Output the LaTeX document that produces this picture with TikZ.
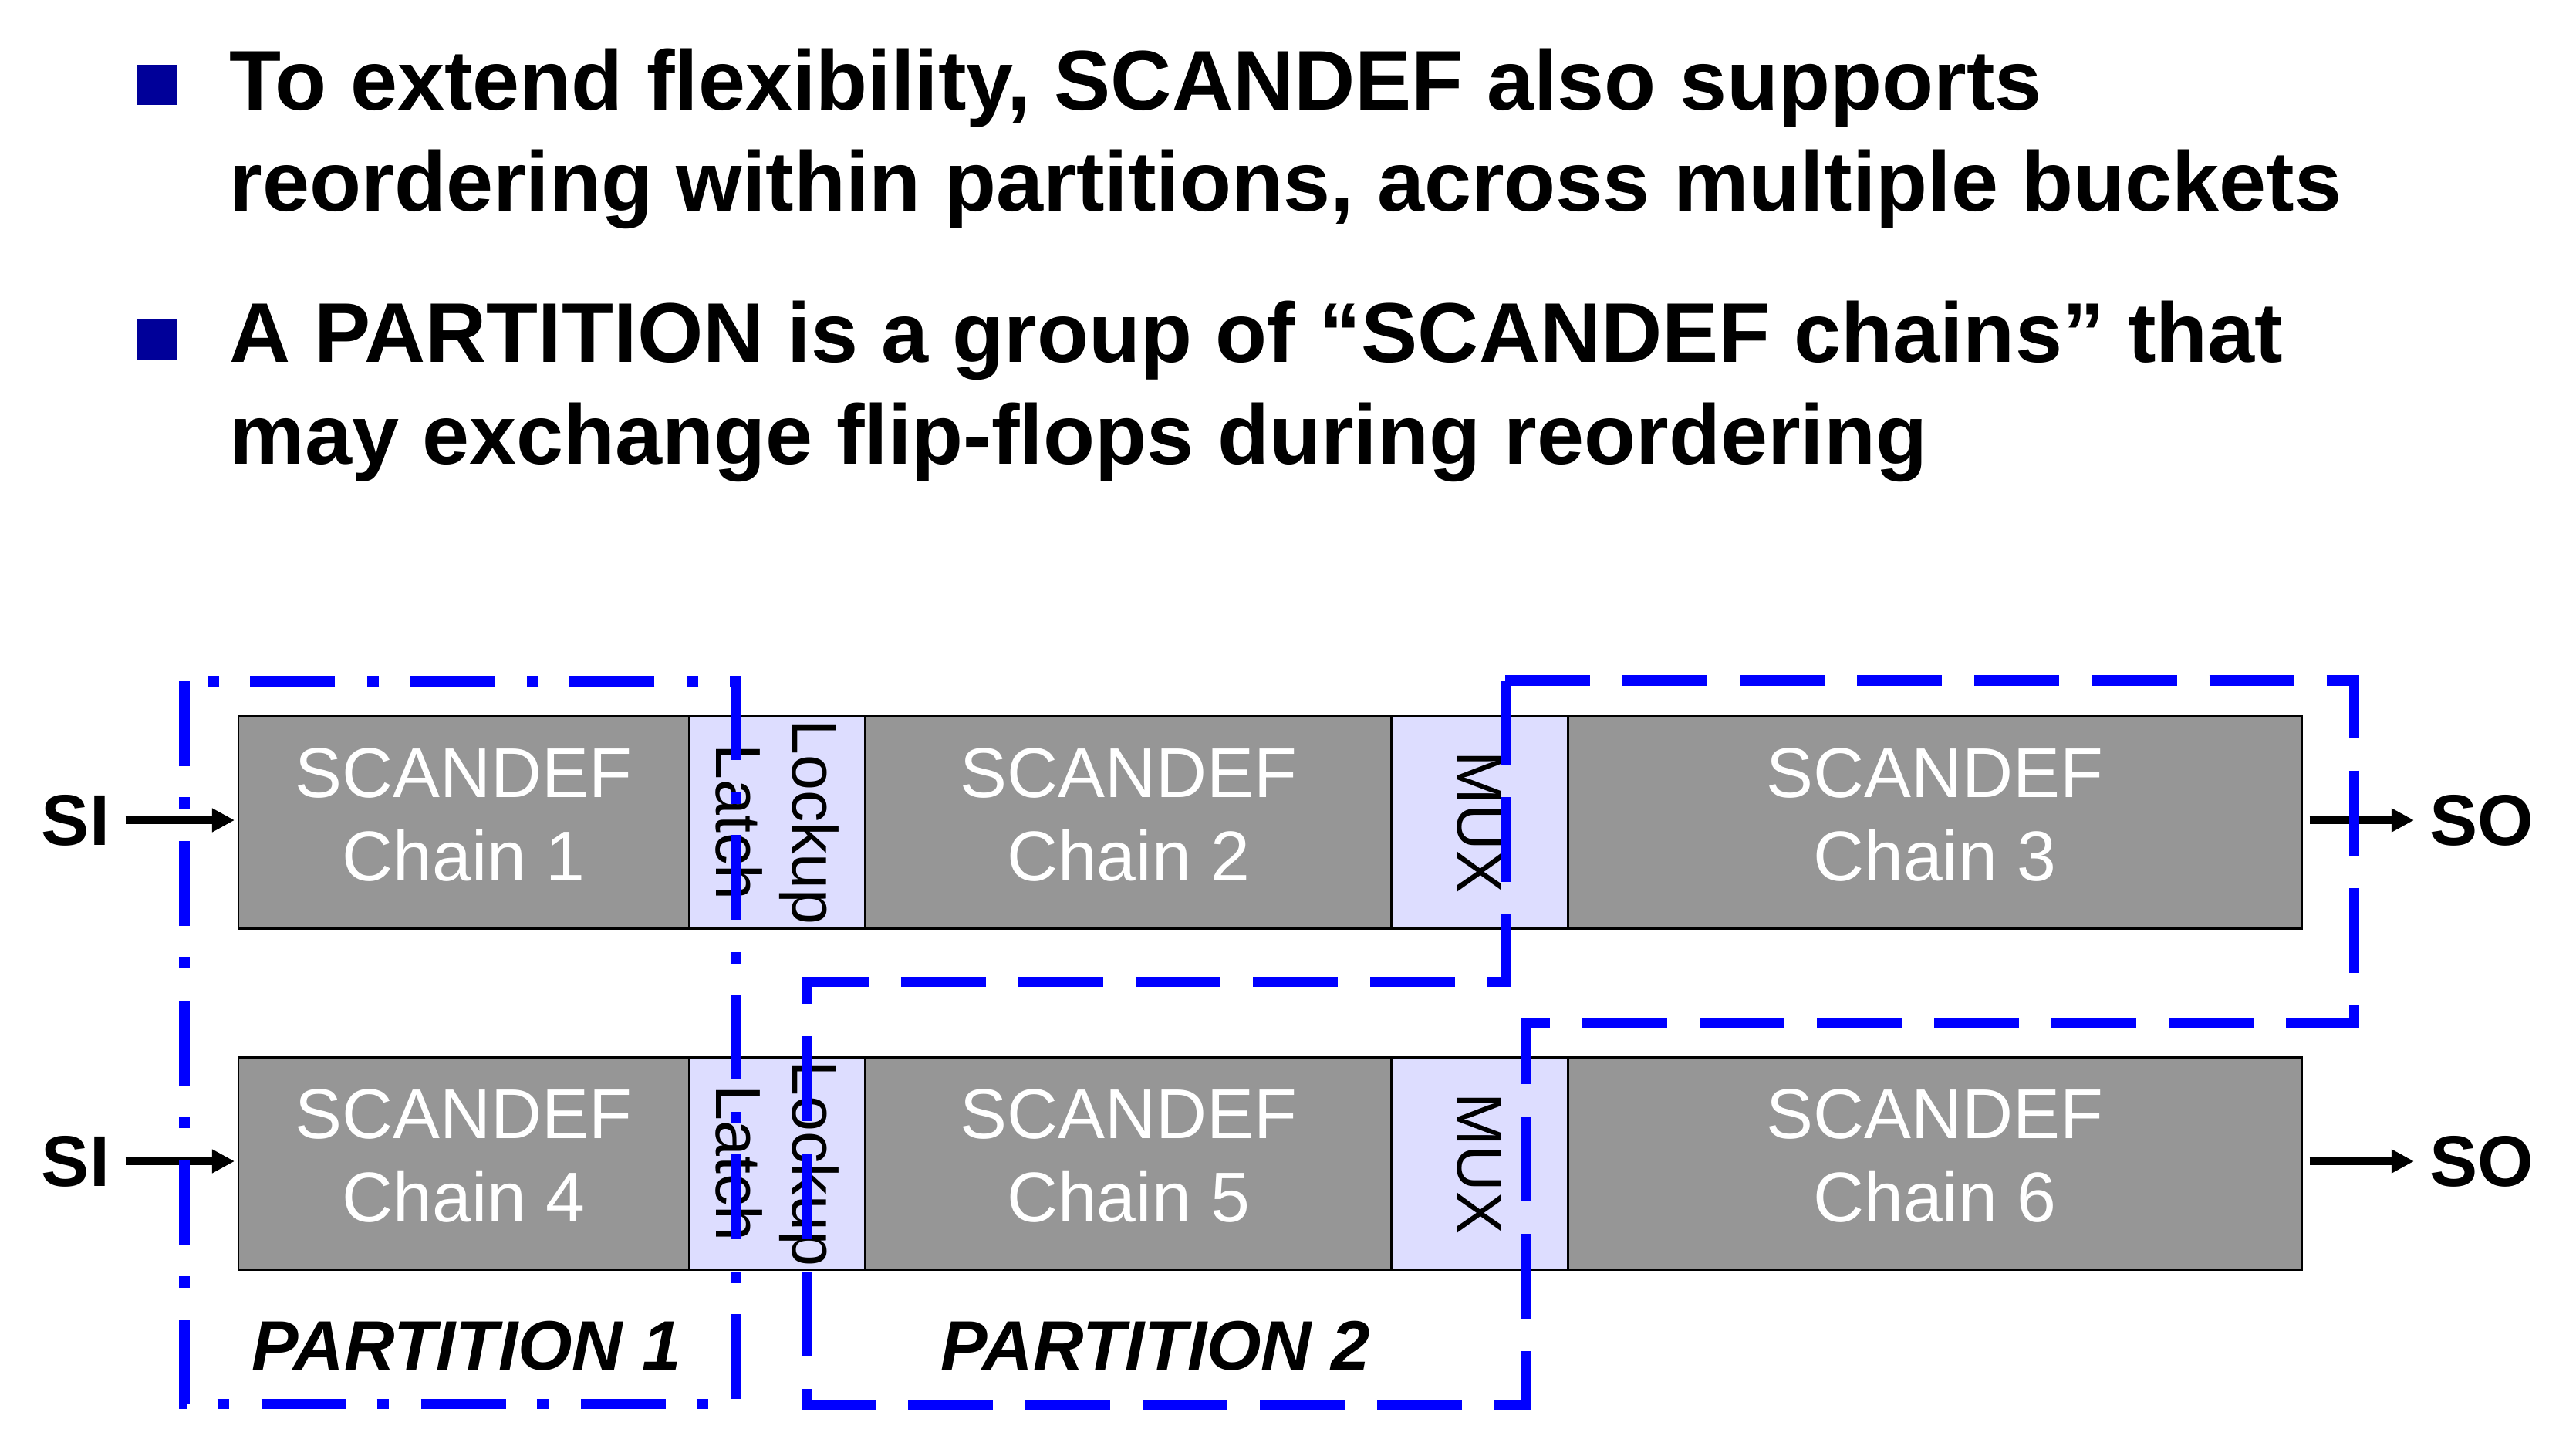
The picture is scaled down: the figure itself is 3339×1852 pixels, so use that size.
\documentclass[tikz,border=0pt]{standalone}
\usepackage{fontspec}
\setmainfont{Liberation Sans}
\usetikzlibrary{arrows.meta,positioning}
\definecolor{ChainGray}{HTML}{969696}
\definecolor{Lavender}{HTML}{DDDDFF}
\definecolor{PartBlue}{HTML}{0000FF}
\definecolor{BulletBlue}{HTML}{000099}
\tikzset{
  chainbox/.style={
    draw=black, line width=0.85pt, fill=ChainGray, text=white,
    minimum height=2.75cm, inner sep=0pt, outer sep=0pt, align=center,
    text depth=0.2cm, font=\fontsize{26}{30.7}\selectfont
  },
  latchbox/.style={
    draw=black, line width=0.85pt, fill=Lavender, outer sep=0pt,
    minimum width=2.28cm, minimum height=2.75cm, inner sep=0pt
  },
  sidetext/.style={
    rotate=-90, align=center, inner sep=0pt,
    font=\fontsize{23.5}{28.1}\selectfont
  },
  iolabel/.style={inner sep=0.2cm, font=\fontsize{26.5}{30}\selectfont\bfseries},
  ioarrow/.style={-{Triangle[length=0.29cm,width=0.29cm]}, line width=2.6pt},
  partlabel/.style={inner sep=0pt, font=\fontsize{25.8}{30}\selectfont\bfseries\itshape},
  partdashdot/.style={draw=PartBlue, line width=3.7pt,
    dash pattern=on 1.1cm off 0.4cm on 0.15cm off 0.42cm},
  partdashed/.style={draw=PartBlue, line width=3.7pt,
    dash pattern=on 1.1cm off 0.42cm},
  bulletsq/.style={fill=BulletBlue, minimum size=0.51cm, inner sep=0pt},
  bullettext/.style={anchor=base west, align=left, inner sep=0pt,
    font=\fontsize{31.2}{37.3}\selectfont\bfseries}
}
\begin{document}
\begin{tikzpicture}[x=0.01cm, y=-0.01cm, node distance=0pt]
  \useasboundingbox (0,0) rectangle (3339,1852);
  \node[bulletsq] (b1) at (203,110) {};
  \node[bullettext] (t1) at (297,274)
    {To extend flexibility, SCANDEF also supports\\reordering within partitions, across multiple buckets};
  \node[bulletsq] (b2) at (203,440) {};
  \node[bullettext] (t2) at (297,601)
    {A PARTITION is a group of “SCANDEF chains” that\\may exchange flip-flops during reordering};

  \node[chainbox, minimum width=5.84cm, anchor=north west] (c1) at (309,928) {SCANDEF\\Chain 1};
  \node[latchbox, right=of c1] (l1) {};
  \node[chainbox, minimum width=6.82cm, right=of l1] (c2) {SCANDEF\\Chain 2};
  \node[latchbox, right=of c2] (m1) {};
  \node[chainbox, minimum width=9.51cm, right=of m1] (c3) {SCANDEF\\Chain 3};

  \node[chainbox, minimum width=5.84cm, below=1.67cm of c1] (c4) {SCANDEF\\Chain 4};
  \node[latchbox, right=of c4] (l2) {};
  \node[chainbox, minimum width=6.82cm, right=of l2] (c5) {SCANDEF\\Chain 5};
  \node[latchbox, right=of c5] (m2) {};
  \node[chainbox, minimum width=9.51cm, right=of m2] (c6) {SCANDEF\\Chain 6};

  \node[sidetext] (l1t) at (l1) {Lockup\\Latch};
  \node[sidetext] (m1t) at (m1) {MUX};
  \node[sidetext] (l2t) at (l2) {Lockup\\Latch};
  \node[sidetext] (m2t) at (m2) {MUX};

  \node[iolabel] (si1) at (98,1063) {SI};
  \node[iolabel] (si2) at (98,1505) {SI};
  \node[iolabel] (so1) at (3217,1063) {SO};
  \node[iolabel] (so2) at (3217,1505) {SO};
  \draw[ioarrow, shorten >=0.05cm] (si1.east) -- (si1.east -| c1.west);
  \draw[ioarrow, shorten >=0.05cm] (si2.east) -- (si2.east -| c4.west);
  \draw[ioarrow, shorten <=0.1cm] (so1.west -| c3.east) -- (so1.west);
  \draw[ioarrow, shorten <=0.1cm] (so2.west -| c6.east) -- (so2.west);

  \draw[partdashdot] (239,883) rectangle (954,1819);
  \draw[partdashed] (1951,882) -- (3051,882) -- (3051,1325) -- (1978,1325)
    -- (1978,1820) -- (1045,1820) -- (1045,1272) -- (1951,1272) -- cycle;
  \node[partlabel, anchor=base] (p1) at (605,1775) {PARTITION 1};
  \node[partlabel, anchor=base] (p2) at (1498,1775) {PARTITION 2};
\end{tikzpicture}
\end{document}
